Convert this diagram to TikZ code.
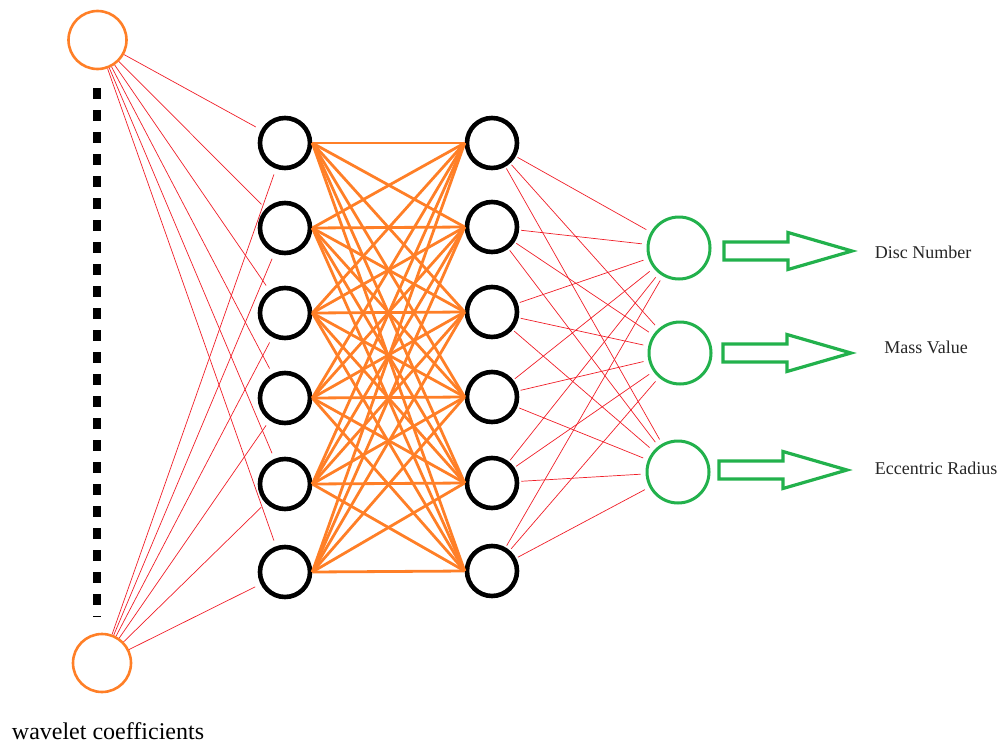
\documentclass[tikz,border=0pt]{standalone}
\usepackage{fontspec}
\setmainfont{Liberation Serif}
\definecolor{orng}{HTML}{FF7F27}
\definecolor{grn}{HTML}{22B14C}
\definecolor{wirered}{HTML}{F01E28}
\begin{document}
\begin{tikzpicture}[x=1pt,y=-1pt,
  inp/.style={circle, draw=orng, line width=2.6pt, minimum size=58pt, inner sep=0pt},
  hid/.style={circle, draw=black, line width=4.6pt, minimum size=50pt, inner sep=0pt},
  outp/.style={circle, draw=grn, line width=3pt, minimum size=62pt, inner sep=0pt},
  wire/.style={draw=wirered, line width=0.7pt},
  link/.style={draw=orng, line width=2.8pt},
  lbl/.style={font=\fontsize{18}{21}\selectfont, text=black!85},
  pics/bigarrow/.style={code={
    \draw[grn, line width=3.2pt, line join=miter]
      (0,-9) -- (64,-9) -- (64,-18.5) -- (128,0) -- (64,18.5) -- (64,9) -- (0,9) -- cycle;}}]
\useasboundingbox (0,0) rectangle (1003,744);

% input layer
\node[inp] (in1) at (97.5,40) {};
\node[inp] (in2) at (102,663) {};
\draw[line width=8.5pt, dash pattern=on 11pt off 11pt] (97,88) -- (97,617);

% hidden layers
\foreach \i/\y in {1/143,2/228,3/313,4/398,5/484,6/572}{
  \node[hid] (a\i) at (285,\y) {};
}
\foreach \i/\y in {1/143,2/227,3/312,4/397,5/483,6/571}{
  \node[hid] (b\i) at (492,\y) {};
}

% output layer
\node[outp] (o1) at (679,248) {};
\node[outp] (o2) at (680,353) {};
\node[outp] (o3) at (678,472) {};

% input -> first hidden layer
\foreach \i in {1,...,6}{
  \draw[wire, shorten >=6pt] (in1) -- (a\i);
  \draw[wire, shorten >=6pt] (in2) -- (a\i);
}

% first hidden -> second hidden layer
\foreach \i in {1,...,6}{
  \foreach \j in {1,...,6}{
    \draw[link] (a\i.east) -- (b\j.west);
  }
}

% second hidden -> output layer
\foreach \i in {1,...,6}{
  \foreach \j in {1,2,3}{
    \draw[wire, shorten <=2pt, shorten >=5pt] (b\i) -- (o\j);
  }
}

% outputs
\pic at (724,251) {bigarrow};
\pic at (723,353) {bigarrow};
\pic at (719,470) {bigarrow};
\node[lbl] (t1) at (923,252) {Disc Number};
\node[lbl] (t2) at (926,347) {Mass Value};
\node[lbl] (t3) at (936,468) {Eccentric Radius};

\node[font=\fontsize{24}{28}\selectfont] (wc) at (108,731) {wavelet coefficients};
\end{tikzpicture}
\end{document}
